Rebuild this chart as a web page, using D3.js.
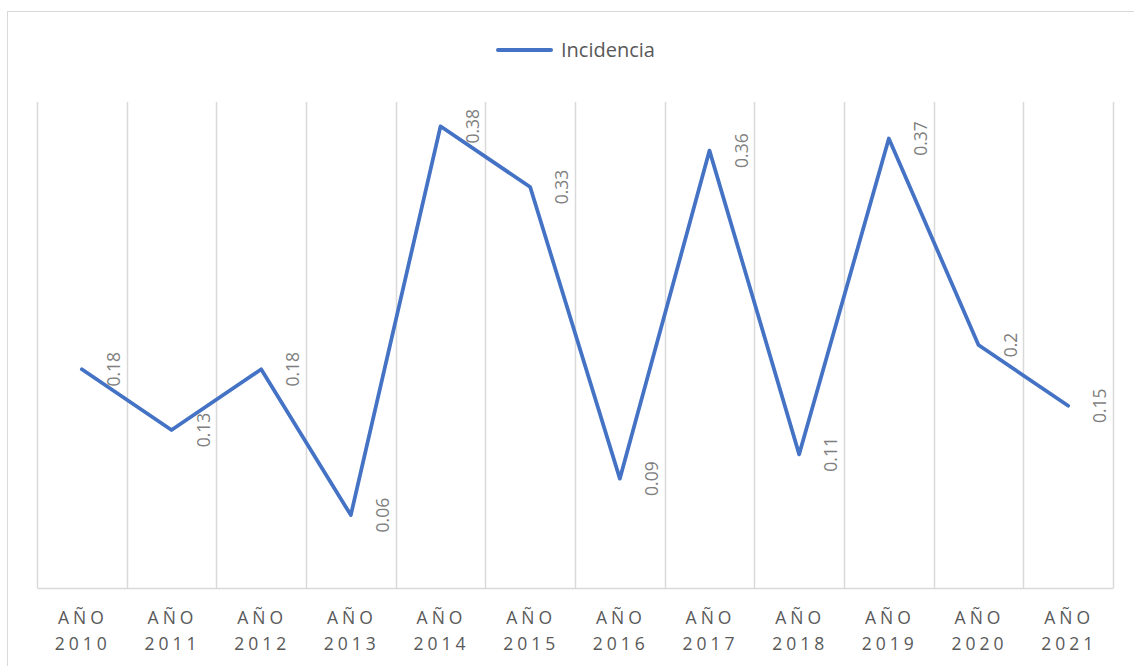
<!DOCTYPE html>
<html>
<head>
<meta charset="utf-8">
<script src="https://cdn.jsdelivr.net/npm/d3@7"></script>
<style>
  html, body { margin: 0; padding: 0; background: #fff; }
  svg { display: block; }
</style>
</head>
<body>
<svg id="chart" width="1134" height="666"></svg>
<script>
// Incidencia anual, 2010–2021
const years = ["2010", "2011", "2012", "2013", "2014", "2015", "2016", "2017", "2018", "2019", "2020", "2021"];
const incidencia = [0.18, 0.13, 0.18, 0.06, 0.38, 0.33, 0.09, 0.36, 0.11, 0.37, 0.2, 0.15];
const seriesName = "Incidencia";
const yDomain = [0, 0.4];

const svg = d3.select("#chart");
const font = "'Open Sans', 'Noto Sans', sans-serif";

const plot = { left: 37, right: 1113, top: 102, bottom: 588 };

// chart frame
svg.append("rect")
  .attr("x", 7.5).attr("y", 11.5)
  .attr("width", 1140).attr("height", 700)
  .attr("fill", "#fff").attr("stroke", "#d9d9d9").attr("stroke-width", 1);

const x = d3.scaleBand().domain(years).range([plot.left, plot.right]).padding(0);
const y = d3.scaleLinear().domain(yDomain).range([plot.bottom, plot.top]);

// vertical gridlines at category boundaries
const bounds = years.map(d => x(d)).concat([x(years[years.length - 1]) + x.bandwidth()]);
svg.append("g").selectAll("line").data(bounds).join("line")
  .attr("x1", d => Math.round(d) + 0.5).attr("x2", d => Math.round(d) + 0.5)
  .attr("y1", y(yDomain[1])).attr("y2", y(0))
  .attr("stroke", "#d9d9d9").attr("stroke-width", 1.5);

// category axis
const xAxis = svg.append("g").attr("transform", `translate(0,${y(0)})`)
  .call(d3.axisBottom(x).tickSize(0).tickFormat(""));
xAxis.select(".domain").attr("stroke", "#d9d9d9").attr("stroke-width", 1.5);

const tickLabels = svg.append("g").selectAll("text").data(years).join("text")
  .attr("x", d => x(d) + x.bandwidth() / 2 + 2)
  .attr("text-anchor", "middle")
  .attr("fill", "#595959")
  .style("font-family", font)
  .style("font-size", "17.5px")
  .style("letter-spacing", "4px");
tickLabels.append("tspan").attr("x", d => x(d) + x.bandwidth() / 2 + 1).attr("y", 624).text("AÑO");
tickLabels.append("tspan").attr("x", d => x(d) + x.bandwidth() / 2 + 1).attr("y", 650).text(d => d);

// series line
const line = d3.line()
  .x((d, i) => x(years[i]) + x.bandwidth() / 2)
  .y(d => y(d));

svg.append("path")
  .datum(incidencia)
  .attr("d", line)
  .attr("fill", "none")
  .attr("stroke", "#4472c4")
  .attr("stroke-width", 3.75)
  .attr("stroke-linejoin", "round")
  .attr("stroke-linecap", "round");

// rotated value labels to the right of each point
svg.append("g").selectAll("text").data(incidencia).join("text")
  .attr("transform", (d, i) => `translate(${x(years[i]) + x.bandwidth() / 2 + 32},${y(d)}) rotate(-90)`)
  .attr("text-anchor", "middle")
  .attr("dy", "0.35em")
  .attr("fill", "#7f7f7f")
  .style("font-family", font)
  .style("font-size", "17.5px")
  .text(d => String(d));

// legend
const legend = svg.append("g");
legend.append("line")
  .attr("x1", 498).attr("x2", 551).attr("y1", 50).attr("y2", 50)
  .attr("stroke", "#4472c4").attr("stroke-width", 4).attr("stroke-linecap", "round");
legend.append("text")
  .attr("x", 561).attr("y", 57)
  .attr("fill", "#595959")
  .style("font-family", font)
  .style("font-size", "20px")
  .text(seriesName);
</script>
</body>
</html>
